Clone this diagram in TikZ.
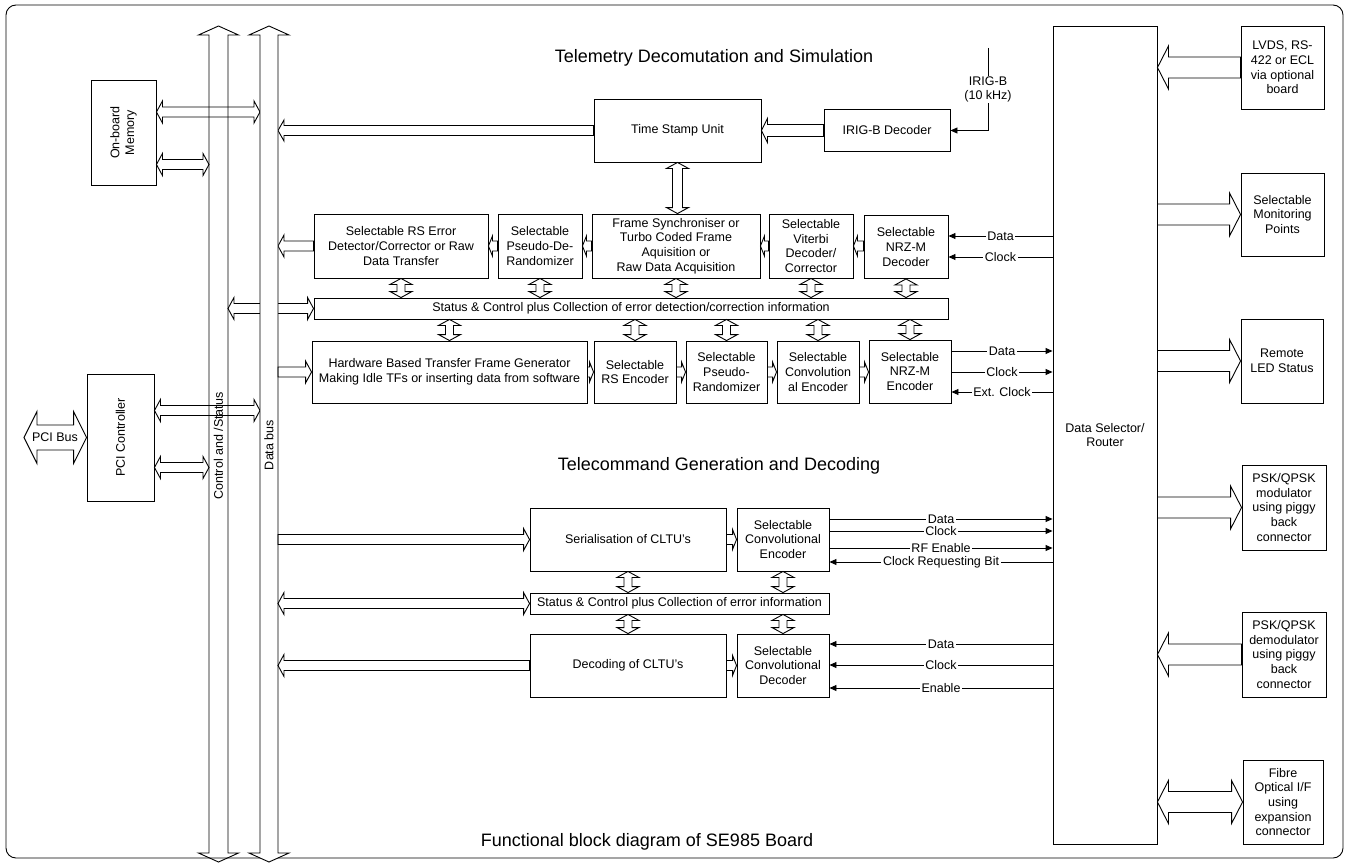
\documentclass[tikz,border=0pt]{standalone}
\usepackage{fontspec}
\setmainfont{Liberation Sans}
\usetikzlibrary{arrows.meta,calc}

% flecha gruesa: [opciones], inicio, fin, medio ancho, medio ancho punta, largo punta
\newcommand{\getvec}[2]{%
  \path let \p1=#1, \p2=#2 in \pgfextra{%
    \pgfmathsetmacro\fang{atan2((\y2)-(\y1),(\x2)-(\x1))}%
    \pgfmathsetmacro\flen{veclen((\x2)-(\x1),(\y2)-(\y1))}%
    \xdef\fang{\fang}\xdef\flen{\flen}\xdef\fxa{\x1}\xdef\fya{\y1}};}
\newcommand{\fatone}[6][]{\getvec{#2}{#3}%
  \draw[#1,shift={(\fxa,\fya)},rotate=\fang] (0pt,-#4pt) -- (\flen pt-#6pt,-#4pt)
    -- (\flen pt-#6pt,-#5pt) -- (\flen pt,0pt) -- (\flen pt-#6pt,#5pt)
    -- (\flen pt-#6pt,#4pt) -- (0pt,#4pt) -- cycle;}
\newcommand{\fattwo}[6][]{\getvec{#2}{#3}%
  \draw[#1,shift={(\fxa,\fya)},rotate=\fang] (0pt,0pt) -- (#6pt,-#5pt) -- (#6pt,-#4pt)
    -- (\flen pt-#6pt,-#4pt) -- (\flen pt-#6pt,-#5pt) -- (\flen pt,0pt)
    -- (\flen pt-#6pt,#5pt) -- (\flen pt-#6pt,#4pt) -- (#6pt,#4pt) -- (#6pt,#5pt) -- cycle;}

\begin{document}
\begin{tikzpicture}[x=1pt,y=-1pt,line width=0.9pt,
  every node/.style={font=\fontsize{12.5}{14.6}\selectfont},
  box/.style={draw,inner sep=0pt,align=center},
  titulo/.style={font=\fontsize{18}{21}\selectfont},
  lbl/.style={fill=white,inner xsep=1.5pt,inner ysep=0.5pt},
  sig/.style={-{Triangle[length=7pt,width=6pt]}}]
	\useasboundingbox (0,0) rectangle (1348,864);
	
	%Marco
	\draw[rounded corners=10pt] (6,5) rectangle (1343,858);
	
	%Buses
	\coordinate (cbtop) at (218.5,26); \coordinate (cbbot) at (218.5,862);
	\coordinate (dbtop) at (269,26); \coordinate (dbbot) at (269,862);
	\coordinate (cbL) at (209,0); \coordinate (cbR) at (228,0);
	\coordinate (dbL) at (260,0); \coordinate (dbR) at (278,0);
	\fattwo{(cbtop)}{(cbbot)}{9.5}{20}{9}
	\node[rotate=90] (cblbl) at (218.5,446) {Control and /Status};
	
	%Memoria
	\node[box,minimum width=65,minimum height=105] (mem) at (123.5,132.5) {};
	\node[rotate=90,align=center] (memlbl) at (mem) {On-board\\Memory};
	\coordinate (m1) at ([yshift=20.5pt]mem.east);
	\coordinate (m2) at ([yshift=-32pt]mem.east);
	\fattwo{(m1)}{(dbL |- m1)}{5}{11}{6}
	\fattwo{(m2)}{(cbL |- m2)}{5}{11}{6}
	
	%PCI
	\node[box,minimum width=67,minimum height=127] (pci) at (120.5,437.5) {};
	\node[rotate=90] (pcilbl) at (pci) {PCI Controller};
	\coordinate (p1) at ([yshift=27pt]pci.east);
	\coordinate (p2) at ([yshift=-30pt]pci.east);
	\fattwo{(p1)}{(dbL |- p1)}{5}{11}{6}
	\fattwo{(p2)}{(cbL |- p2)}{5}{11}{6}
	\coordinate (pcibus) at (24,437.5);
	\fattwo{(pcibus)}{(pci.west)}{12.5}{26}{13}
	\node (pcibuslbl) at (55,437.5) {PCI Bus};
	
	%Telemetria
	\node[titulo] (tmtitle) at (714,58) {Telemetry Decomutation and Simulation};
	\node[box,minimum width=167,minimum height=63] (tsu) at (677.5,130.5) {Time Stamp Unit};
	\node[box,minimum width=126,minimum height=42] (irig) at (887,130.5) {IRIG-B Decoder};
	\coordinate (irigin) at (988,48);
	\draw[sig] (irigin) -- node[lbl,align=center] (iriglbl) {IRIG-B\\(10 kHz)} (irigin |- irig.east) -- (irig.east);
	\fatone{(irig.west)}{(tsu.east)}{6}{12}{6}
	\fatone{(tsu.west)}{(dbR |- tsu.west)}{5}{10.5}{6}
	
	% fila de decodificacion
	\node[box,minimum width=174,minimum height=64] (rsdec) at (401,246) {Selectable RS Error\\Detector/Corrector or Raw\\Data Transfer};
	\node[box,minimum width=84,minimum height=64] (pdr) at (540,246) {Selectable\\Pseudo-De-\\Randomizer};
	\node[box,minimum width=168,minimum height=64] (fsync) at (676,246) {Frame Synchroniser or\\Turbo Coded Frame\\Aquisition or\\Raw Data Acquisition};
	\node[box,minimum width=84,minimum height=64] (vit) at (811,246) {Selectable\\Viterbi\\Decoder/\\Corrector};
	\node[box,minimum width=84,minimum height=63] (nrzdec) at (906,247) {Selectable\\NRZ-M\\Decoder};
	\fattwo{(tsu.south)}{(tsu.south |- fsync.north)}{5}{11}{6}
	\fatone{(nrzdec.west |- vit.east)}{(vit.east)}{5}{10}{4}
	\fatone{(vit.west)}{(fsync.east)}{5}{10}{4}
	\fatone{(fsync.west)}{(pdr.east)}{5}{10}{4}
	\fatone{(pdr.west)}{(rsdec.east)}{5}{10}{4}
	\fatone{(rsdec.west)}{(dbR |- rsdec.west)}{5}{11}{6}
	
	%Estado y control
	\node[box,minimum width=634,minimum height=21] (stat1) at (631,308.5) {Status \& Control plus Collection of error detection/correction information};
	\fattwo{(cbR |- stat1.west)}{(stat1.west)}{5}{11}{6}
	\foreach \b in {rsdec,pdr,fsync,vit,nrzdec}{
		\fattwo{(\b.south)}{(\b.south |- stat1.north)}{4}{11}{6}}
	
	%Bus de datos (encima)
	\fattwo[fill=white]{(dbtop)}{(dbbot)}{9}{20}{9}
	\node[rotate=90] (dblbl) at (269,445) {Data bus};
	
	% fila de simulacion
	\node[box,minimum width=275,minimum height=62] (hwgen) at (449.5,372) {Hardware Based Transfer Frame Generator\\Making Idle TFs or inserting data from software};
	\node[box,minimum width=82,minimum height=62] (rsenc) at (635,372) {Selectable\\RS Encoder};
	\node[box,minimum width=81,minimum height=62] (prand) at (726.5,372) {Selectable\\Pseudo-\\Randomizer};
	\node[box,minimum width=82,minimum height=62] (cenc) at (818,372) {Selectable\\Convolution\\al Encoder};
	\node[box,minimum width=82,minimum height=63] (nrzenc) at (910,371.5) {Selectable\\NRZ-M\\Encoder};
	\foreach \b in {hwgen,rsenc,prand,cenc,nrzenc}{
		\fattwo{(\b.north)}{(\b.north |- stat1.south)}{4}{11}{6}}
	\fatone{(dbR |- hwgen.west)}{(hwgen.west)}{5}{11}{6}
	\fatone{(hwgen.east)}{(rsenc.west)}{5}{10}{4}
	\fatone{(rsenc.east)}{(prand.west)}{5}{10}{4}
	\fatone{(prand.east)}{(cenc.west)}{5}{10}{4}
	\fatone{(cenc.east)}{(nrzenc.west |- cenc.east)}{5}{10}{4}
	
	%Telecomando
	\node[titulo] (tctitle) at (719,466) {Telecommand Generation and Decoding};
	\node[box,minimum width=196,minimum height=63] (ser) at (628,539.5) {Serialisation of CLTU's};
	\node[box,minimum width=92,minimum height=63] (ccenc) at (783,539.5) {Selectable\\Convolutional\\Encoder};
	\node[box,minimum width=299,minimum height=21] (stat2) at (679.5,603.5) {Status \& Control plus Collection of error information};
	\node[box,minimum width=196,minimum height=63] (dec) at (628,665.5) {Decoding of CLTU's};
	\node[box,minimum width=92,minimum height=63] (ccdec) at (783,665.5) {Selectable\\Convolutional\\Decoder};
	\fatone{(dbR |- ser.west)}{(ser.west)}{5}{11}{6}
	\fattwo{(dbR |- stat2.west)}{(stat2.west)}{5}{11}{6}
	\fatone{(dec.west)}{(dbR |- dec.west)}{5}{11}{6}
	\fatone{(ser.east)}{(ccenc.west)}{5}{10}{4}
	\fatone{(dec.east)}{(ccdec.west)}{5}{10}{4}
	\foreach \b in {ser,ccenc}{
		\fattwo{(\b.south)}{(\b.south |- stat2.north)}{4}{11}{6}
		\fattwo{(\b.south |- stat2.south)}{(\b.south |- dec.north)}{4}{11}{6}}
	
	%Router
	\node[box,minimum width=104,minimum height=818] (router) at (1105,435) {Data Selector/\\Router};
	
	% senales
	\draw[sig] (router.west |- 0,236) -- node[lbl] (s1) {Data} (nrzdec.east |- 0,236);
	\draw[sig] (router.west |- 0,257) -- node[lbl] (s2) {Clock} (nrzdec.east |- 0,257);
	\draw[sig] (nrzenc.east |- 0,351) -- node[lbl] (s3) {Data} (router.west |- 0,351);
	\draw[sig] (nrzenc.east |- 0,372) -- node[lbl] (s4) {Clock} (router.west |- 0,372);
	\draw[sig] (router.west |- 0,392) -- node[lbl] (s5) {Ext. Clock} (nrzenc.east |- 0,392);
	\draw[sig] (ccenc.east |- 0,519) -- node[lbl] (s6) {Data} (router.west |- 0,519);
	\draw[sig] (ccenc.east |- 0,531) -- node[lbl] (s7) {Clock} (router.west |- 0,531);
	\draw[sig] (ccenc.east |- 0,548) -- node[lbl] (s8) {RF Enable} (router.west |- 0,548);
	\draw[sig] (router.west |- 0,562) -- node[lbl] (s9) {Clock Requesting Bit} (ccenc.east |- 0,562);
	\draw[sig] (router.west |- 0,644) -- node[lbl] (s10) {Data} (ccdec.east |- 0,644);
	\draw[sig] (router.west |- 0,665) -- node[lbl] (s11) {Clock} (ccdec.east |- 0,665);
	\draw[sig] (router.west |- 0,688) -- node[lbl] (s12) {Enable} (ccdec.east |- 0,688);
	
	%Interfaces externas
	\node[box,minimum width=83,minimum height=83] (lvds) at (1282.5,67.5) {LVDS, RS-\\422 or ECL\\via optional\\board};
	\node[box,minimum width=83,minimum height=83] (mon) at (1282.5,214.5) {Selectable\\Monitoring\\Points};
	\node[box,minimum width=82,minimum height=84] (led) at (1282,361) {Remote\\LED Status};
	\node[box,minimum width=84,minimum height=85] (mod) at (1284,507.5) {PSK/QPSK\\modulator\\using piggy\\back\\connector};
	\node[box,minimum width=84,minimum height=85] (demod) at (1284,654.5) {PSK/QPSK\\demodulator\\using piggy\\back\\connector};
	\node[box,minimum width=80,minimum height=84] (fibre) at (1283,802) {Fibre\\Optical I/F\\using\\expansion\\connector};
	\fatone{(lvds.west)}{(router.east |- lvds.west)}{10.5}{21.5}{11}
	\fatone{(router.east |- mon.west)}{(mon.west)}{10.5}{21.5}{11}
	\fatone{(router.east |- led.west)}{(led.west)}{10.5}{21.5}{11}
	\fatone{(router.east |- mod.west)}{(mod.west)}{10.5}{21.5}{11}
	\fatone{(demod.west)}{(router.east |- demod.west)}{10.5}{21.5}{11}
	\fattwo{(router.east |- fibre.west)}{(fibre.west)}{10.5}{21.5}{11}
	
	\node[titulo] (figtitle) at (647,842) {Functional block diagram of SE985 Board};
\end{tikzpicture}
\end{document}
